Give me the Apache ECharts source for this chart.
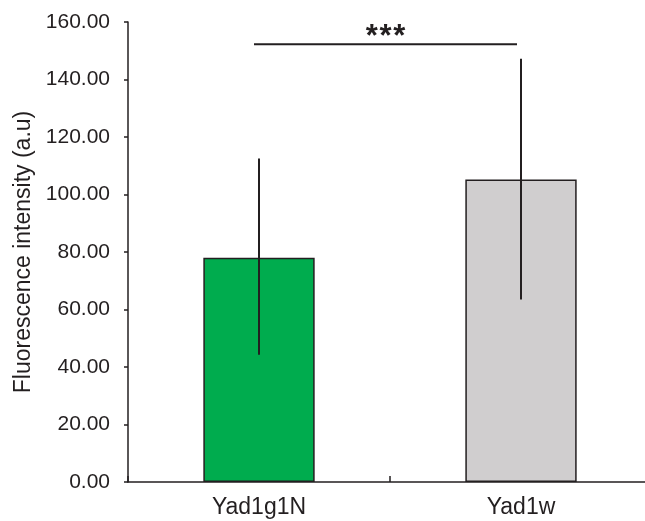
<!DOCTYPE html>
<html><head><meta charset="utf-8">
<script src="https://cdn.jsdelivr.net/npm/echarts@6/dist/echarts.min.js"></script>
<style>html,body{margin:0;padding:0;background:#fff}#c{width:645px;height:521px}</style>
</head><body><div id="c"></div>
<script>
const categories = ['Yad1g1N', 'Yad1w'];
const means = [78, 105.2];
const errLow = [44.3, 63.5];
const errHigh = [112.5, 147.2];
const barColors = ['#00ac4e', '#d0cecf'];
const sigLevel = 152.3;
const sigLabel = '***';
const yTicks = [0, 20, 40, 60, 80, 100, 120, 140, 160];

const chart = echarts.init(document.getElementById('c'), null, {renderer: 'canvas'});
const font = 'Liberation Sans, Arial, sans-serif';
chart.setOption({
  animation: false,
  backgroundColor: '#fff',
  grid: {left: 128, top: 22, width: 524, bottom: 39, containLabel: false, outerBoundsMode: 'none'},
  xAxis: {
    type: 'category', data: categories,
    axisLine: {lineStyle: {color: '#231f20', width: 1.5}},
    axisTick: {show: true, inside: true, length: 6, lineStyle: {color: '#231f20', width: 1.5}},
    axisLabel: {color: '#231f20', fontSize: 23, fontFamily: font, margin: 14}
  },
  yAxis: {
    type: 'value', min: yTicks[0], max: yTicks[yTicks.length - 1], interval: 20,
    name: 'Fluorescence intensity (a.u)', nameLocation: 'middle', nameGap: 91,
    nameTextStyle: {color: '#231f20', fontSize: 23, fontFamily: font},
    axisLine: {show: true, lineStyle: {color: '#231f20', width: 1.5}},
    axisTick: {show: true, length: 4, lineStyle: {color: '#231f20', width: 1.5}},
    splitLine: {show: false},
    axisLabel: {color: '#231f20', fontSize: 21, fontFamily: font, margin: 18,
      formatter: v => v.toFixed(2)}
  },
  series: [
    {
      type: 'bar', barWidth: '42.5%',
      data: means.map((v, i) => ({value: v, itemStyle: {color: barColors[i]}})),
      itemStyle: {borderColor: '#231f20', borderWidth: 1.5}
    },
    {
      type: 'custom', z: 5,
      data: categories.map((c, i) => [i, errLow[i], errHigh[i]]),
      renderItem: (params, api) => {
        const lo = api.coord([api.value(0), api.value(1)]);
        const hi = api.coord([api.value(0), api.value(2)]);
        return {type: 'line', shape: {x1: lo[0], y1: lo[1], x2: hi[0], y2: hi[1]},
          style: {stroke: '#231f20', lineWidth: 2}};
      }
    },
    {
      type: 'custom', z: 6,
      data: [[0, 1, sigLevel]],
      renderItem: (params, api) => {
        const a = api.coord([api.value(0), api.value(2)]);
        const b = api.coord([api.value(1), api.value(2)]);
        const x1 = a[0] - 5, x2 = b[0] - 4;
        const mid = (x1 + x2) / 2;
        const chars = sigLabel.split('');
        const step = 13.7;
        const children = [
          {type: 'line', shape: {x1: x1, y1: a[1], x2: x2, y2: b[1]}, style: {stroke: '#231f20', lineWidth: 2}}
        ];
        chars.forEach((ch, k) => {
          children.push({type: 'text', style: {text: ch, x: mid + (k - (chars.length - 1) / 2) * step, y: a[1] + 9,
            align: 'center', verticalAlign: 'bottom', font: 'bold 31px ' + font, fill: '#231f20'}});
        });
        return {type: 'group', children: children};
      }
    }
  ]
});
</script></body></html>
